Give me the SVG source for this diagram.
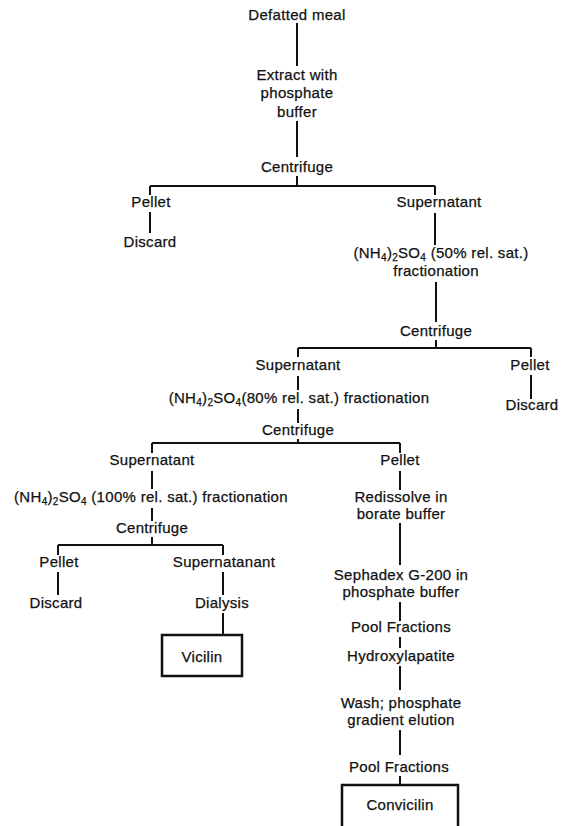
<svg xmlns="http://www.w3.org/2000/svg" width="566" height="826" viewBox="0 0 566 826">
<style>
text{font-family:"Liberation Sans",Arial,sans-serif;font-size:15px;letter-spacing:0.3px;fill:#111;stroke:#111;stroke-width:0.25;text-anchor:middle}
.sub{font-size:10px}
.c path{fill:none;stroke:#111;stroke-width:2}
.box{fill:none;stroke:#111;stroke-width:2.5}
</style>
<rect width="566" height="826" fill="#fff"/>
<g class="c" id="connectors">
<path d="M297 23V66"/>
<path d="M297 121V157"/>
<path d="M297 176V186M150 186H435M150 186V195M435 186V195"/>
<path d="M150 212V233"/>
<path d="M435 213V245"/>
<path d="M436 282V322"/>
<path d="M436 340V348M298 348H531M298 348V357M531 348V357"/>
<path d="M531 375V399"/>
<path d="M298 376V390"/>
<path d="M298 409V423"/>
<path d="M298 439V443M152 443H400M152 443V453M400 443V453"/>
<path d="M152 471V489"/>
<path d="M152 508V521"/>
<path d="M400 471V490"/>
<path d="M152 537V545M58 545H223M58 545V555M223 545V555"/>
<path d="M58 572V595"/>
<path d="M223 572V595"/>
<path d="M223 613V635"/>
<path d="M400 523V565"/>
<path d="M400 602V621"/>
<path d="M400 637V648"/>
<path d="M400 666V690"/>
<path d="M400 730V755"/>
<path d="M400 776V785"/>
</g>
<g id="n1"><text x="297" y="20">Defatted meal</text></g>
<g id="n2"><text x="297" y="80">Extract with</text><text x="297" y="98">phosphate</text><text x="297" y="117">buffer</text></g>
<g id="n3"><text x="297" y="172">Centrifuge</text></g>
<g id="n4"><text x="151" y="207">Pellet</text></g>
<g id="n5"><text x="150" y="247">Discard</text></g>
<g id="n6"><text x="439" y="207">Supernatant</text></g>
<g id="n7"><text x="441" y="258">(NH<tspan class="sub" dy="3">4</tspan><tspan dy="-3">)</tspan><tspan class="sub" dy="3">2</tspan><tspan dy="-3">SO</tspan><tspan class="sub" dy="3">4</tspan><tspan dy="-3"> (50% rel. sat.)</tspan></text><text x="436" y="276">fractionation</text></g>
<g id="n8"><text x="436" y="336">Centrifuge</text></g>
<g id="n9"><text x="298" y="370">Supernatant</text></g>
<g id="n10"><text x="530" y="370">Pellet</text></g>
<g id="n11"><text x="532" y="410">Discard</text></g>
<g id="n12"><text x="299" y="403">(NH<tspan class="sub" dy="3">4</tspan><tspan dy="-3">)</tspan><tspan class="sub" dy="3">2</tspan><tspan dy="-3">SO</tspan><tspan class="sub" dy="3">4</tspan><tspan dy="-3">(80% rel. sat.) fractionation</tspan></text></g>
<g id="n13"><text x="298" y="435">Centrifuge</text></g>
<g id="n14"><text x="152" y="465">Supernatant</text></g>
<g id="n15"><text x="400" y="465">Pellet</text></g>
<g id="n16"><text x="151" y="502">(NH<tspan class="sub" dy="3">4</tspan><tspan dy="-3">)</tspan><tspan class="sub" dy="3">2</tspan><tspan dy="-3">SO</tspan><tspan class="sub" dy="3">4</tspan><tspan dy="-3"> (100% rel. sat.) fractionation</tspan></text></g>
<g id="n17"><text x="401" y="502">Redissolve in</text><text x="401" y="519">borate buffer</text></g>
<g id="n18"><text x="152" y="533">Centrifuge</text></g>
<g id="n19"><text x="59" y="567">Pellet</text></g>
<g id="n20"><text x="56" y="608">Discard</text></g>
<g id="n21"><text x="224" y="567">Supernatanant</text></g>
<g id="n22"><text x="222" y="608">Dialysis</text></g>
<g id="n23"><rect class="box" x="162" y="635" width="80" height="41"/><text x="202" y="662">Vicilin</text></g>
<g id="n24"><text x="401" y="580">Sephadex G-200 in</text><text x="401" y="597">phosphate buffer</text></g>
<g id="n25"><text x="401" y="632">Pool Fractions</text></g>
<g id="n26"><text x="401" y="661">Hydroxylapatite</text></g>
<g id="n27"><text x="401" y="708">Wash; phosphate</text><text x="401" y="725">gradient elution</text></g>
<g id="n28"><text x="399" y="772">Pool Fractions</text></g>
<g id="n29"><rect class="box" x="342" y="785" width="116" height="50"/><text x="400" y="810">Convicilin</text></g>
</svg>
